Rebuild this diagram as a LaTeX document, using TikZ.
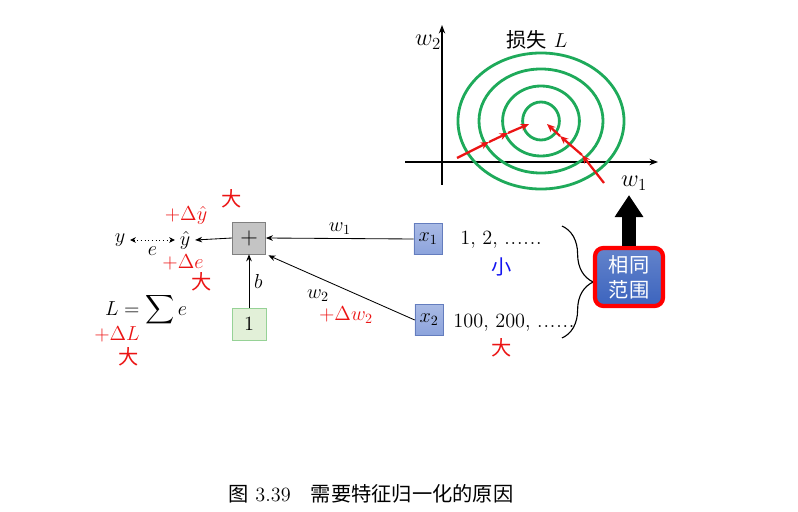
\documentclass[tikz,border=0pt]{standalone}
\usepackage{amsmath,amssymb}
\usepackage{fontspec}
\newfontfamily\cjk{Noto Sans CJK SC}
\usetikzlibrary{arrows.meta,positioning,decorations.pathreplacing}

\definecolor{ringgreen}{RGB}{30,170,90}
\definecolor{boxblue}{RGB}{140,163,220}
\definecolor{boxblueline}{RGB}{100,125,190}
\definecolor{plusgray}{RGB}{196,196,196}
\definecolor{onegreen}{RGB}{226,240,216}
\definecolor{onegreenline}{RGB}{150,210,150}
\definecolor{rangeblue}{RGB}{60,100,190}
\definecolor{deltared}{RGB}{235,20,20}
\definecolor{smallblue}{RGB}{20,20,240}

\newcommand{\cndots}{.\hspace{0.6pt}.\hspace{0.6pt}.\hspace{0.6pt}.\hspace{0.6pt}.\hspace{0.6pt}.}

\begin{document}
\begin{tikzpicture}[x=0.025cm, y=-0.025cm, >=Stealth, font=\Large]

	\tikzstyle{inbox}=[draw=boxblueline, top color=boxblue!75, bottom color=boxblue,
	minimum width=0.7cm, minimum height=0.78cm, inner sep=0pt]
	\tikzstyle{link}=[-{Stealth[length=5pt,width=4pt]}, semithick]
	\tikzstyle{delta}=[text=deltared, inner sep=1pt]
	\tikzstyle{ring}=[ringgreen, line width=2pt]
	\tikzstyle{step arrow}=[deltared, line width=1.6pt, -{Stealth[length=6pt,width=5pt]}]

	\useasboundingbox (0,0) rectangle (798,512);

	% Loss contour plot
	\draw[-{Stealth[length=6pt]}, line width=1.4pt] (405,162) -- (658,162);
	\draw[-{Stealth[length=6pt]}, line width=1.4pt] (442,185) -- (442,25);
	\node (w2axis) at (428,42) {\LARGE $w_2$};
	\node (w1axis) at (634,183) {\LARGE $w_1$};
	\node (losslabel) at (537,40) {{\cjk 损失} $L$};

	\draw[ring] (541,121) ellipse [x radius=0.46cm, y radius=0.475cm];
	\draw[ring] (541,121) ellipse [x radius=0.96cm, y radius=0.875cm];
	\draw[ring] (541,121) ellipse [x radius=1.55cm, y radius=1.3cm];
	\draw[ring] (541,121) ellipse [x radius=2.075cm, y radius=1.7cm];

	% Update steps
	\coordinate (p0) at (457,158);
	\coordinate (p1) at (489,142);
	\coordinate (p2) at (508,133);
	\coordinate (p3) at (529,124);
	\coordinate (q0) at (604,183);
	\coordinate (q1) at (582,155);
	\coordinate (q2) at (560,136);
	\coordinate (q3) at (547,124);
	\draw[step arrow] (p0) -- (p1);
	\draw[step arrow] (p1) -- (p2);
	\draw[step arrow] (p2) -- (p3);
	\draw[step arrow] (q0) -- (q1);
	\draw[step arrow] (q1) -- (q2);
	\draw[step arrow] (q2) -- (q3);

	% Neuron
	\node[draw=gray, fill=plusgray, minimum width=0.83cm, minimum height=0.8cm, font=\LARGE] (plus) at (249,238) {$+$};
	\node[draw=onegreenline, fill=onegreen, minimum width=0.85cm, minimum height=0.8cm] (one) at (249,324) {$1$};
	\node[inbox] (x1) at (428,239) {$x_1$};
	\node[inbox] (x2) at (429,320) {$x_2$};
	\node (yhat) at (185,240) {$\hat{y}$};
	\node (y) at (120,240) {$y$};

	\draw[link] (x1.west) -- node[above, yshift=-1pt] (w1lab) {$w_1$} (plus.east);
	\draw[link, shorten >=2pt] (x2.west) -- (plus.south east);
	\node (w2lab) at (318,296) {$w_2$};
	\node[delta] (dw2) at (346,315) {$+\Delta w_2$};
	\draw[link] (one.north) -- node[right] (blab) {$b$} (plus.south);
	\draw[link] (plus.west) -- (yhat.east);
	\draw[{Stealth[length=4pt,width=4pt]}-{Stealth[length=4pt,width=4pt]}, semithick, dotted]
		(y.east) -- node[below, yshift=-1pt] (elab) {$e$} (yhat.west);

	\node[delta] (dyhat) at (186,215) {$+\Delta\hat{y}$};
	\node[delta] (bigyhat) at (232,199) {\cjk 大};
	\node[delta] (de) at (183,262) {$+\Delta e$};
	\node[delta] (bige) at (202,282) {\cjk 大};
	\node (loss) at (146,310) {$L=\displaystyle\sum e$};
	\node[delta] (dL) at (117,334) {$+\Delta L$};
	\node[delta] (bigL) at (129,357) {\cjk 大};

	% Feature ranges
	\node (range1) at (501,240) {1, 2, \cndots};
	\node[text=smallblue] (small1) at (502,267) {\cjk 小};
	\node (range2) at (514,323) {100, 200, \cndots};
	\node[text=deltared] (big2) at (502,348) {\cjk 大};
	\coordinate (brtop) at (562,226);
	\coordinate (brbot) at (562,338);
	\draw[decorate, decoration={brace, amplitude=0.78cm}, thick] (brtop) -- (brbot);

	\node[draw=red, line width=3pt, rounded corners=6pt, top color=rangeblue!80, bottom color=rangeblue,
	text=white, align=center, minimum width=1.7cm, minimum height=1.45cm, inner sep=1pt,
	font=\Large\cjk] (same) at (629,277) {相同\\范围};
	\coordinate (sametip) at (629,195);
	\draw[line width=0.35cm, -{Triangle[length=0.55cm, width=0.68cm]}] (same.north) -- (sametip);

	% Caption
	\node (caption) at (371,494) {{\cjk 图} 3.39\quad{\cjk 需要特征归一化的原因}};

\end{tikzpicture}
\end{document}
